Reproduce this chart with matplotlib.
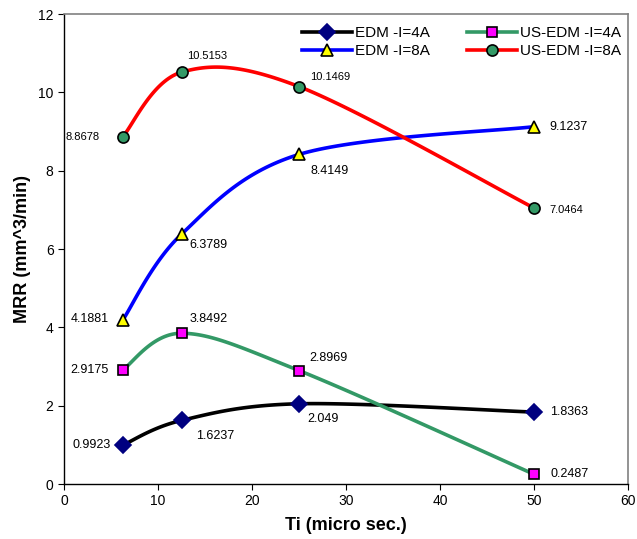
import numpy as np
import matplotlib.pyplot as plt

plt.rcParams['font.family'] = ['Liberation Sans', 'DejaVu Sans']

# pulse on-time (micro sec.)
ti = [6.25, 12.5, 25, 50]

edm_4a = [0.9923, 1.6237, 2.049, 1.8363]
us_edm_4a = [2.9175, 3.8492, 2.8969, 0.2487]
edm_8a = [4.1881, 6.3789, 8.4149, 9.1237]
us_edm_8a = [8.8678, 10.5153, 10.1469, 7.0464]

names = ['EDM -I=4A', 'US-EDM -I=4A', 'EDM -I=8A', 'US-EDM -I=8A']


def smooth(xs, ys, n=40):
    # Excel-like smoothed line: bezier segments with catmull-rom tangents
    p = np.column_stack([xs, ys]).astype(float)
    pts = [p[0]] + list(p) + [p[-1]]
    out = []
    for i in range(1, len(pts) - 2):
        p0, p1, p2, p3 = pts[i - 1], pts[i], pts[i + 1], pts[i + 2]
        c1 = p1 + (p2 - p0) / 6
        c2 = p2 - (p3 - p1) / 6
        t = np.linspace(0, 1, n)[:, None]
        seg = (1 - t) ** 3 * p1 + 3 * (1 - t) ** 2 * t * c1 + 3 * (1 - t) * t ** 2 * c2 + t ** 3 * p2
        out.append(seg)
    out = np.vstack(out)
    return out[:, 0], out[:, 1]


fig = plt.figure(figsize=(6.37, 5.39), dpi=100)
ax = fig.add_axes([0.1005, 0.102, 0.8855, 0.872])

series = [
    (edm_4a, 'black', 'D', '#000080', '#000080', 8),
    (us_edm_4a, '#339966', 's', '#FF00FF', 'black', 7.5),
    (edm_8a, '#0000FF', '^', '#FFFF00', 'black', 9),
    (us_edm_8a, '#FF0000', 'o', '#339966', 'black', 8),
]

handles = []
for (vals, lc, mk, mfc, mec, ms), name in zip(series, names):
    sx, sy = smooth(ti, vals)
    ax.plot(sx, sy, color=lc, lw=2.6, zorder=2, solid_capstyle='round')
    ax.plot(ti, vals, ls='none', marker=mk, ms=ms, mfc=mfc, mec=mec, mew=1.2, zorder=3)
    h, = ax.plot([], [], color=lc, lw=2.6, marker=mk, ms=ms, mfc=mfc, mec=mec, mew=1.2)
    handles.append(h)

# data labels: (offset in pixels, alignment, font size)
label_pos = [
    [((-12, 0), 'right', 9), ((15, -16), 'left', 9), ((8, -15), 'left', 9), ((16, 0), 'left', 9)],
    [((-14, 0), 'right', 9), ((8, 14), 'left', 9), ((10, 13), 'left', 9), ((16, 0), 'left', 9)],
    [((-14, 1), 'right', 9), ((8, -11), 'left', 9), ((11, -17), 'left', 9), ((15, 0), 'left', 9)],
    [((-23, 0), 'right', 8), ((6, 16), 'left', 8), ((11, 10), 'left', 8), ((15, -2), 'left', 8)],
]
for (vals, *_), labs in zip(series, label_pos):
    for x, y, (off, ha, fs) in zip(ti, vals, labs):
        ax.annotate(f'{y:g}', (x, y), xytext=off, textcoords='offset pixels',
                    ha=ha, va='center', fontsize=fs, color='black')

ax.set_xlim(0, 60)
ax.set_ylim(0, 12)
ax.set_xticks(np.arange(0, 61, 10))
ax.set_yticks(np.arange(0, 13, 2))
ax.tick_params(direction='out', length=4, labelsize=10, colors='black')
for s in ['top', 'right']:
    ax.spines[s].set_color('#808080')
    ax.spines[s].set_linewidth(1.2)
for s in ['left', 'bottom']:
    ax.spines[s].set_color('black')
    ax.spines[s].set_linewidth(1)

ax.set_xlabel('Ti (micro sec.)', fontsize=13, fontweight='bold', labelpad=6)
ax.set_ylabel('MRR (mm^3/min)', fontsize=13, fontweight='bold', labelpad=5)

# legend columns: EDM in the first, US-EDM in the second
order = [0, 2, 1, 3]
ax.legend([handles[i] for i in order], [names[i] for i in order],
          loc='upper right', bbox_to_anchor=(1.012, 1.004), ncol=2,
          frameon=False, fontsize=11, handlelength=3.3, handletextpad=0.2,
          columnspacing=2.4, labelspacing=0.3)

fig.savefig('out.png', dpi=100)
